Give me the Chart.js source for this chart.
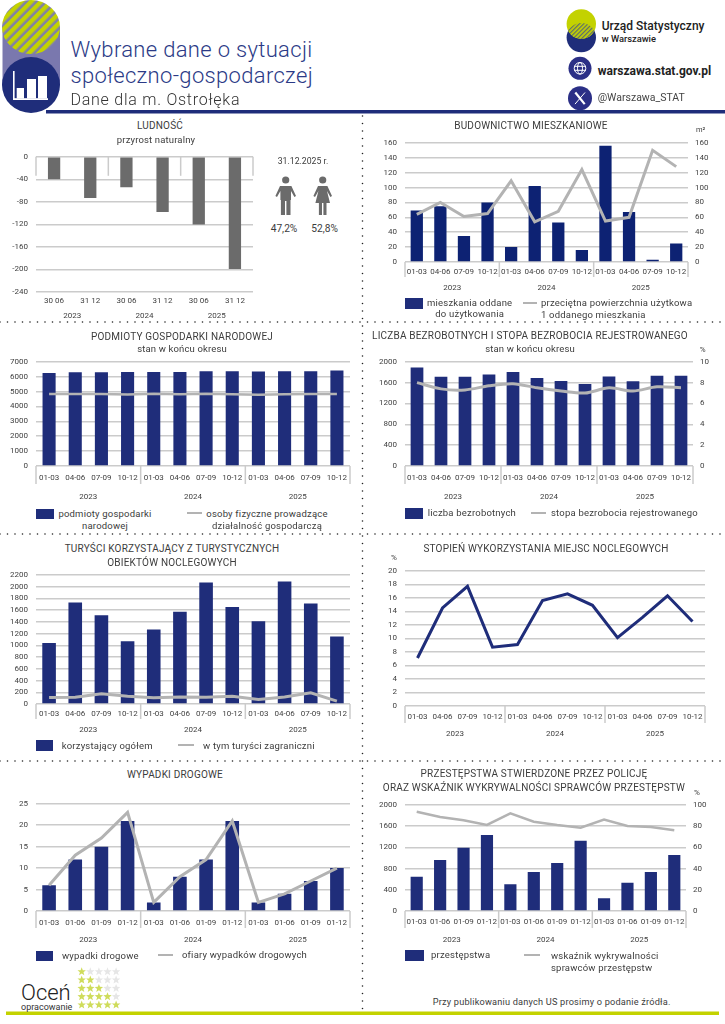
<!DOCTYPE html>
<html lang="pl"><head><meta charset="utf-8"><title>Wybrane dane o sytuacji społeczno-gospodarczej</title>
<script src="https://cdn.jsdelivr.net/npm/chart.js@4"></script>
<style>
html,body{margin:0;padding:0;background:#fff}
#page{position:relative;width:725px;height:1024px;overflow:hidden;font-family:Roboto,sans-serif}
#page canvas{position:absolute}
.t{position:absolute;white-space:nowrap;line-height:1;color:#3c3c3c}
svg{position:absolute;left:0;top:0}
</style></head><body><div id="page">
<svg id="art" width="725" height="1024" viewBox="0 0 725 1024">
<defs>
<pattern id="hatch" width="7" height="7" patternUnits="userSpaceOnUse" patternTransform="rotate(45)"><rect width="7" height="7" fill="#7f80a8"/><rect width="4.4" height="7" fill="#c3d200"/></pattern>
<pattern id="hatch2" width="3" height="3" patternUnits="userSpaceOnUse" patternTransform="rotate(45)"><rect width="3" height="3" fill="#c3d200"/><rect width="1.2" height="3" fill="#5a6a70"/></pattern>
<clipPath id="navyclip"><circle cx="581.3" cy="37.6" r="14.7"/></clipPath>
</defs>
<rect x="2.5" y="27" width="57.5" height="58" fill="#7a78ae"/>
<ellipse cx="31" cy="27" rx="29" ry="27" fill="url(#hatch)"/>
<ellipse cx="31" cy="85" rx="29" ry="28" fill="#1f2d7a"/>
<g fill="#fff"><rect x="13" y="71" width="1.6" height="29"/><rect x="13" y="98.2" width="35" height="1.8"/><rect x="16.7" y="88" width="7.3" height="10.5"/><rect x="27" y="79" width="9" height="19.5"/><rect x="38" y="76" width="9" height="22.5"/></g>
<rect x="46" y="110" width="679" height="3.5" fill="#1f2d7a"/>
<circle cx="581.3" cy="37.6" r="14.7" fill="#1f2d7a"/>
<circle cx="581.3" cy="24" r="14.7" fill="#c3d200"/>
<circle cx="581.3" cy="24" r="14.7" fill="url(#hatch2)" clip-path="url(#navyclip)"/>
<circle cx="580" cy="68.3" r="11.5" fill="#2b2f86"/>
<g fill="none" stroke="#fff" stroke-width="1"><circle cx="580" cy="68.3" r="5.8"/><ellipse cx="580" cy="68.3" rx="2.5" ry="5.8"/><path d="M574.2 66.3H585.8M574.2 70.3H585.8"/></g>
<circle cx="580" cy="98.3" r="12" fill="#2b2f86"/>
<path d="M575.3 92.5L584.7 104.1" stroke="#fff" stroke-width="2.2" fill="none"/>
<path d="M585 92.5L575 104.1" stroke="#fff" stroke-width="1" fill="none"/>
<rect x="6" y="1011.5" width="713" height="3.5" fill="#c3d200"/>
<g stroke="#222" stroke-width="1.6" stroke-linecap="round" stroke-dasharray="0 7.5" fill="none">
<path d="M0 322H725M0 534H725M0 761H725M362.5 116V1010"/>
</g>
<g id="people" fill="#6b6b6b" stroke="none">
<circle cx="285.7" cy="180" r="3.6"/><path d="M280 186H291.4L296 196L294.4 197L291 191V200H290.5V215H286.4V201H285V215H280.9V200H280.4V191L277 197L275.4 196Z"/>
<circle cx="322.7" cy="180" r="3.6"/><path d="M318 186H327.4L332 196L330.4 197L327 191L330 203H326.5V215H323.4V203H322V215H318.9V203H315.4L318.4 191L315 197L313.4 196Z"/>
</g>
<g id="stars"></g>
</svg>
</div>
<script>
const quarters = ['01-03','04-06','07-09','10-12'];
const cumQuarters = ['01-03','01-06','01-09','01-12'];
const years = ['2023','2024','2025'];
const halfYears = ['30 06','31 12','30 06','31 12','30 06','31 12'];
const rep = a => a.concat(a, a);

const naturalChange = [-40,-73,-54,-98,-120,-199];
const dwellings = [69,75,35,80,20,102,53,16,156,67,3,25];
const avgArea = [64,80,61,65,109,54,68,124,55,60,150,128];
const entities = [6250,6290,6290,6320,6320,6320,6370,6370,6350,6370,6370,6410];
const selfEmployed = [4830,4840,4840,4810,4850,4820,4850,4820,4790,4820,4830,4840];
const unemployed = [1890,1715,1715,1755,1805,1690,1630,1575,1720,1625,1730,1730];
const unemploymentRate = [8.0,7.4,7.3,7.7,7.9,7.5,7.2,7.0,7.5,7.2,7.6,7.5];
const tourists = [1040,1730,1510,1070,1270,1570,2070,1650,1410,2085,1710,1150];
const foreignTourists = [110,115,175,130,105,120,115,130,75,120,190,50];
const bedOccupancy = [7.1,14.5,17.7,8.7,9.1,15.6,16.6,14.9,10.1,13.1,16.3,12.5];
const accidents = [6,12,15,21,2,8,12,21,2,4,7,10];
const accidentVictims = [6,13,17,23,2,8,12,21,2,4,7,10];
const crimes = [645,960,1190,1430,505,735,905,1325,240,530,735,1055];
const detectionRate = [93.5,88.5,85.5,81,92,84,81,78.5,86,80,79,76];

const NAVY='#1f2d7a', NAVY2='#0d2273', GREY='#b3b3b3', BAR_GREY='#6b6b6b', GRID='#cbcbcb', TICK='#3f3f3f';
const page=document.getElementById('page');

function txt(x,y,s,o={}){
  const d=document.createElement('div');d.className='t';d.textContent=s;
  const a=o.align||'center';
  const tx=a==='center'?'-50%':a==='right'?'-100%':'0';
  d.style.cssText=`left:${x}px;top:${y}px;transform:translate(${tx},-50%);font-size:${o.size||9.5}px;`+
   (o.color?`color:${o.color};`:'')+(o.weight?`font-weight:${o.weight};`:'')+(o.ls?`letter-spacing:${o.ls}px;`:'');
  page.appendChild(d);
}
const separators={id:'separators',afterDraw(c,_,o){
  const g=c.scales.x2,ctx=c.ctx,top=o.fromTop?c.chartArea.top:c.chartArea.bottom;
  ctx.save();ctx.strokeStyle=GRID;ctx.lineWidth=1.5;
  for(let i=0;i<=years.length;i++){const x=g.left+g.width*i/years.length;
    ctx.beginPath();ctx.moveTo(x,top);ctx.lineTo(x,top+o.len);ctx.stroke();}
  ctx.restore();
}};
function panel(id,r,c){
  const L=44,Rp=c.y2?36:12,Tp=12,Bp=42;
  const cv=document.createElement('canvas');cv.id=id;
  const W=r.r-r.l+L+Rp,H=r.b-r.t+Tp+Bp;
  cv.width=W;cv.height=H;cv.style.left=(r.l-L)+'px';cv.style.top=(r.t-Tp)+'px';
  page.appendChild(cv);
  const tickFont={family:'Roboto',size:8};
  const xh=r.xh||18;
  const plain=v=>String(v);
  const scales={
   x:{type:'category',offset:true,weight:0,labels:c.labels,border:{display:false},grid:{display:false,drawTicks:false},
      afterFit:s=>{s.height=xh},
      ticks:{autoSkip:false,maxRotation:0,minRotation:0,padding:r.xp||6,color:TICK,font:tickFont}},
   x2:{type:'category',offset:true,weight:1,position:'bottom',labels:years,border:{display:false},grid:{display:false,drawTicks:false},
      afterFit:s=>{s.height=Bp-xh},
      ticks:{autoSkip:false,maxRotation:0,minRotation:0,padding:r.x2p||6,color:TICK,font:tickFont}},
   y:{position:'left',min:c.y.min,max:c.y.max,border:{display:false},grid:{color:GRID,lineWidth:1.5,drawTicks:false},
      afterFit:s=>{s.width=L},
      ticks:{autoSkip:false,stepSize:c.y.step,padding:r.yp||8,color:TICK,font:tickFont,callback:plain}}
  };
  if(c.y2)scales.y2={position:'right',min:c.y2.min,max:c.y2.max,border:{display:false},grid:{display:false,drawTicks:false},
      afterFit:s=>{s.width=Rp},
      ticks:{autoSkip:false,stepSize:c.y2.step,padding:r.y2p||7,color:TICK,font:tickFont,callback:plain}};
  new Chart(cv,{type:'bar',plugins:[separators],data:{labels:c.labels,datasets:c.datasets},options:{
    responsive:false,animation:false,devicePixelRatio:1,
    layout:{padding:{top:Tp,left:0,right:c.y2?0:Rp,bottom:0}},
    plugins:{legend:{display:false},tooltip:{enabled:false},separators:{len:r.sep,fromTop:!!r.fromTop}},
    scales}});
}
const bar=(label,data,color,pct)=>({type:'bar',label,data,backgroundColor:color,barPercentage:pct,categoryPercentage:1,order:2,yAxisID:'y',xAxisID:'x'});
const line=(label,data,o={})=>({type:'line',label,data,borderColor:o.color||GREY,borderWidth:o.w||3,pointRadius:0,tension:o.t||0,order:1,yAxisID:o.axis||'y',xAxisID:'x'});

panel('ludnosc',{l:36,r:253,t:156,b:292.7,sep:19,fromTop:true,xh:16,xp:4.5,x2p:3},{labels:halfYears,y:{min:-240,max:0,step:40},
  datasets:[bar('przyrost naturalny',naturalChange,BAR_GREY,0.34)]});
panel('budownictwo',{l:405.3,r:688.7,t:142,b:262.7,sep:15,xh:17,xp:5,x2p:4.3,y2p:7},{labels:rep(quarters),y:{min:0,max:160,step:20},y2:{min:0,max:160,step:20},
  datasets:[bar('mieszkania oddane do użytkowania',dwellings,NAVY2,0.52),line('przeciętna powierzchnia użytkowa 1 oddanego mieszkania',avgArea,{axis:'y2'})]});
panel('podmioty',{l:36,r:350.7,t:361,b:466.3,sep:18,xh:18,xp:6.7,x2p:7.7},{labels:rep(quarters),y:{min:0,max:7000,step:1000},
  datasets:[bar('podmioty gospodarki narodowej',entities,NAVY,0.5),line('osoby fizyczne prowadzące działalność gospodarczą',selfEmployed,{w:2.5})]});
panel('bezrobocie',{l:404.7,r:692.7,t:361,b:466,sep:18,xh:18,xp:7,x2p:7.7,y2p:7},{labels:rep(quarters),y:{min:0,max:2000,step:400},y2:{min:0,max:10,step:2},
  datasets:[bar('liczba bezrobotnych',unemployed,NAVY,0.53),line('stopa bezrobocia rejestrowanego',unemploymentRate,{axis:'y2',t:0.3})]});
panel('turysci',{l:36,r:350,t:573.7,b:703.7,sep:15,xh:18,xp:5.3,x2p:3.3},{labels:rep(quarters),y:{min:0,max:2200,step:200},
  datasets:[bar('korzystający ogółem',tourists,NAVY,0.52),line('w tym turyści zagraniczni',foreignTourists)]});
panel('stopien',{l:405.3,r:706.3,t:570.3,b:706.3,sep:17,xh:18,xp:5.7,x2p:4.7},{labels:rep(quarters),y:{min:0,max:20,step:2},
  datasets:[line('stopień wykorzystania miejsc noclegowych',bedOccupancy,{color:NAVY})]});
panel('wypadki',{l:36,r:350,t:803,b:911,sep:17,xh:18,xp:6.7,x2p:6},{labels:rep(cumQuarters),y:{min:0,max:25,step:5},
  datasets:[bar('wypadki drogowe',accidents,NAVY,0.52),line('ofiary wypadków drogowych',accidentVictims)]});
panel('przestepstwa',{l:405.3,r:687,t:804.3,b:911.3,sep:17,xh:18,xp:6.4,x2p:5.7,y2p:7},{labels:rep(cumQuarters),y:{min:0,max:2000,step:400},y2:{min:0,max:100,step:20},
  datasets:[bar('przestępstwa',crimes,NAVY,0.52),line('wskaźnik wykrywalności sprawców przestępstw',detectionRate,{axis:'y2',w:2.5})]});

/* titles */
const T={size:10,ls:0.2};const S={size:9.5,ls:0.15};const L={size:9.5,ls:0.2};
txt(160,125.7,'LUDNOŚĆ',T);txt(156,139.5,'przyrost naturalny',S);
txt(303,161,'31.12.2025 r.',{size:8.7});txt(284,229,'47,2%',{size:10.2});txt(324.7,229,'52,8%',{size:10.2});
txt(531,125.7,'BUDOWNICTWO MIESZKANIOWE',T);txt(696,130,'m²',{size:7.5,align:'left'});
txt(182,337,'PODMIOTY GOSPODARKI NARODOWEJ',T);txt(182,349,'stan w końcu okresu',S);
txt(530,336.3,'LICZBA BEZROBOTNYCH I STOPA BEZROBOCIA REJESTROWANEGO',T);txt(530,349,'stan w końcu okresu',S);txt(702.6,350,'%',{size:8});
txt(172,548.7,'TURYŚCI KORZYSTAJĄCY Z TURYSTYCZNYCH',T);txt(172,563,'OBIEKTÓW NOCLEGOWYCH',T);
txt(546,548.7,'STOPIEŃ WYKORZYSTANIA MIEJSC NOCLEGOWYCH',T);txt(394,557.7,'%',{size:8});
txt(175,774.7,'WYPADKI DROGOWE',T);
txt(534,774.3,'PRZESTĘPSTWA STWIERDZONE PRZEZ POLICJĘ',T);txt(534,788,'ORAZ WSKAŹNIK WYKRYWALNOŚCI SPRAWCÓW PRZESTĘPSTW',T);txt(697,793,'%',{size:8});

/* legends */
function swatch(x0,x1,y0,y1){const d=document.createElement('div');d.style.cssText=`position:absolute;left:${x0}px;top:${y0}px;width:${x1-x0}px;height:${y1-y0}px;background:${NAVY}`;page.appendChild(d)}
function dash(x0,x1,y){const d=document.createElement('div');d.style.cssText=`position:absolute;left:${x0}px;top:${y-1.25}px;width:${x1-x0}px;height:2.5px;background:${GREY}`;page.appendChild(d)}
swatch(405,423,298,309);txt(469.7,302.7,'mieszkania oddane',L);txt(469.7,314.3,'do użytkowania',L);
dash(522.7,537,303);txt(541,303,'przeciętna powierzchnia użytkowa',{...L,align:'left'});txt(541,314.7,'1 oddanego mieszkania',{...L,align:'left'});
swatch(36,54,509,519);txt(105,514,'podmioty gospodarki',L);txt(105,526,'narodowej',L);
dash(187,202,513);txt(267,514,'osoby fizyczne prowadzące',L);txt(267,526,'działalność gospodarczą',L);
swatch(405,423,508,519);txt(427.7,513,'liczba bezrobotnych',{...L,align:'left'});
dash(531,546,513);txt(551,513,'stopa bezrobocia rejestrowanego',{...L,align:'left'});
swatch(36,53,740,750.7);txt(61.7,746,'korzystający ogółem',{...L,align:'left'});
dash(178,194,745);txt(203,746,'w tym turyści zagraniczni',{...L,align:'left'});
swatch(36,53,950.7,961);txt(62,955.7,'wypadki drogowe',{...L,align:'left'});
dash(158,173,955);txt(182,954.7,'ofiary wypadków drogowych',{...L,align:'left'});
swatch(405,424,950,961.3);txt(431,955,'przestępstwa',{...L,align:'left'});
dash(524.3,540,955);txt(551,956.3,'wskaźnik wykrywalności',{...L,align:'left'});txt(551,967.7,'sprawców przestępstw',{...L,align:'left'});
txt(432.7,1001.7,'Przy publikowaniu danych US prosimy o podanie źródła.',{size:9.2,align:'left',ls:0.2});

/* header & footer */
txt(70.5,50,'Wybrane dane o sytuacji',{size:22,align:'left',color:'#2b3a86',weight:300,ls:0.33});
txt(70.5,76,'społeczno-gospodarczej',{size:22,align:'left',color:'#2b3a86',weight:300,ls:0.33});
txt(70.5,100,'Dane dla m. Ostrołęka',{size:16,align:'left',color:'#333',weight:300,ls:0.75});
txt(601.7,25.7,'Urząd Statystyczny',{size:12,align:'left',color:'#222',weight:500});
txt(601.7,39,'w Warszawie',{size:9.3,align:'left',color:'#222',weight:500});
txt(597.7,71,'warszawa.stat.gov.pl',{size:12,align:'left',color:'#222',weight:700});
txt(597.7,98.3,'@Warszawa_STAT',{size:10.5,align:'left',color:'#444'});
txt(21,993,'Oceń',{size:22,align:'left',color:'#222',weight:300});
txt(21,1006.7,'opracowanie',{size:9,align:'left',color:'#333'});
const starsG=document.getElementById('stars');let s='';
const star=(x,y,c)=>{let p=[];for(let i=0;i<10;i++){const r=i%2?1.9:4.4,a=-Math.PI/2+i*Math.PI/5;p.push((x+r*Math.cos(a)).toFixed(1)+','+(y+r*Math.sin(a)).toFixed(1))}return `<polygon points="${p.join(' ')}" fill="${c}"/>`};
for(let r=0;r<5;r++)for(let k=0;k<5;k++)s+=star(81.7+k*8.6,971.7+r*8.3,k<=r?'#cfdc5a':'#e6e6e6');
starsG.innerHTML=s;
</script></body></html>
